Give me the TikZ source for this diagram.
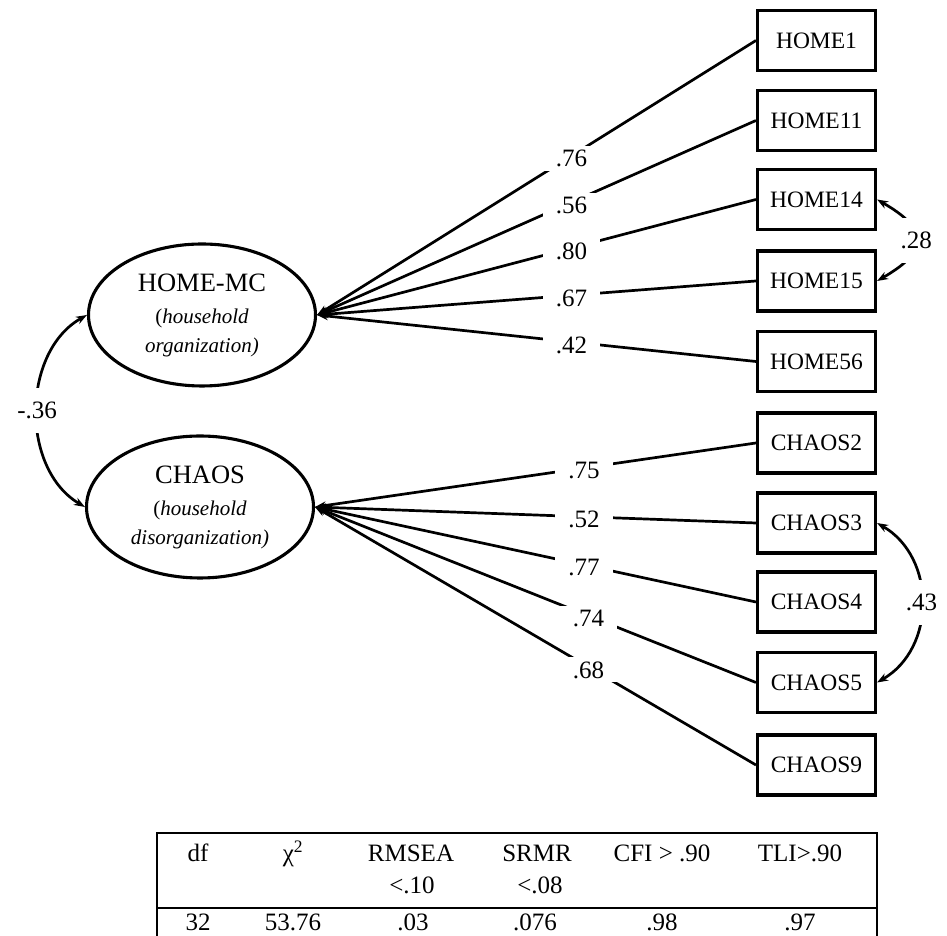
\documentclass[tikz,border=0pt]{standalone}
\usepackage{fontspec}
\setmainfont{Liberation Serif}
\usetikzlibrary{arrows.meta,shapes.geometric}
\newcommand\subfnt{\fontsize{21}{26}\selectfont}
\begin{document}
\begin{tikzpicture}[x=1pt,y=1pt,
  obs/.style={draw, line width=3.1pt, minimum width=118pt, minimum height=60pt, inner sep=0pt, font=\fontsize{23.5}{26}\selectfont},
  lat/.style={draw, ellipse, line width=3.1pt, minimum width=227pt, minimum height=142pt, inner sep=0pt, align=center, font=\fontsize{26.5}{29}\selectfont},
  tip/.tip={Stealth[length=11pt,width=8pt]},
  load/.style={line width=2.7pt, -tip},
  cov/.style={line width=2.7pt, tip-tip},
  lbl/.style={fill=white, inner xsep=13pt, inner ysep=4pt, font=\fontsize{25}{27}\selectfont},
  covlbl/.style={fill=white, inner xsep=2pt, inner ysep=14pt, font=\fontsize{25}{27}\selectfont},
  tbl/.style={anchor=base, inner sep=0pt, font=\fontsize{25}{27}\selectfont},
  rule/.style={line width=1.3pt}
]
\useasboundingbox (0,0) rectangle (947,936);

% observed indicators
\node[obs] (h1)  at (816.5,895.5) {HOME1};
\node[obs] (h11) at (816.5,815.5) {HOME11};
\node[obs] (h14) at (816.5,736.5) {HOME14};
\node[obs] (h15) at (816.5,655)   {HOME15};
\node[obs] (h56) at (816.5,574.5) {HOME56};
\node[obs] (c2)  at (816.5,493)   {CHAOS2};
\node[obs] (c3)  at (816.5,413)   {CHAOS3};
\node[obs] (c4)  at (816.5,334)   {CHAOS4};
\node[obs] (c5)  at (816.5,253.5) {CHAOS5};
\node[obs] (c9)  at (816.5,171)   {CHAOS9};

% latent factors
\node[lat] (home)  at (202,621) {HOME-MC\\[3pt]\subfnt(\textit{household}\\\subfnt\textit{organization)}};
\node[lat] (chaos) at (200,429) {CHAOS\\[3pt]\subfnt(\textit{household}\\\subfnt\textit{disorganization)}};

% loadings
\foreach \b/\v/\p in {h1/.76/0.42, h11/.56/0.42, h14/.80/0.42, h15/.67/0.42, h56/.42/0.42}
  \draw[load] (\b.west) -- node[lbl, pos=\p, yshift=-3pt] {\v} (home.east);
\foreach \b/\v/\p in {c2/.75/0.39, c3/.52/0.39, c4/.77/0.39, c5/.74/0.38, c9/.68/0.38}
  \draw[load] (\b.west) -- node[lbl, pos=\p, yshift=-3pt] {\v} (chaos.east);

% covariances
\draw[cov] (home.west) to[bend right=60] node[covlbl, midway] {-.36} (chaos.west);
\draw[cov] (h14.east) to[out=-30, in=30, looseness=1.9] node[covlbl, midway] {.28} (h15.east);
\draw[cov] (c3.east) to[out=-30, in=30, looseness=1.1] node[covlbl, midway] {.43} (c5.east);

% fit table
\draw[rule] (157,0) -- (157,103) -- (877,103) -- (877,0);
\draw[rule] (157,28) -- (877,28);
\node[tbl] (hdf)  at (198,74.5) {df};
\node[tbl] (hchi) at (293,74.5) {χ\textsuperscript{2}};
\node[tbl] (hrm)  at (411,74.5) {RMSEA};
\node[tbl] (hsr)  at (537,74.5) {SRMR};
\node[tbl] (hcfi) at (662,74.5) {CFI > .90};
\node[tbl] (htli) at (800,74.5) {TLI>.90};
\node[tbl] (hrm2) at (412,42.5) {<.10};
\node[tbl] (hsr2) at (540,42.5) {<.08};
\node[tbl] (vdf)  at (198,5) {32};
\node[tbl] (vchi) at (293,5) {53.76};
\node[tbl] (vrm)  at (413,5) {.03};
\node[tbl] (vsr)  at (535,5) {.076};
\node[tbl] (vcfi) at (662,5) {.98};
\node[tbl] (vtli) at (800,5) {.97};
\end{tikzpicture}
\end{document}
